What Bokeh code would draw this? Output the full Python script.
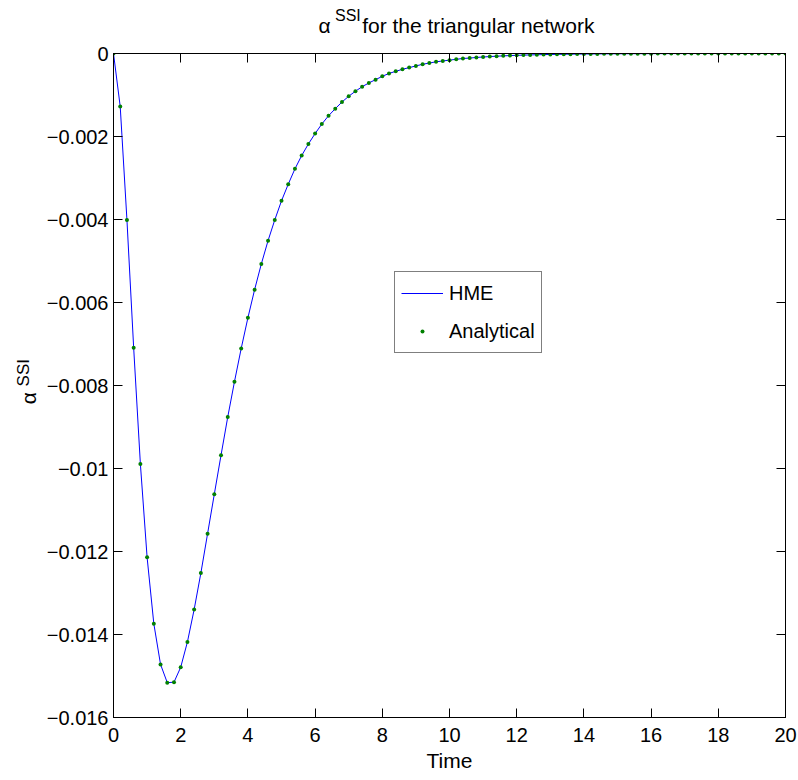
from bokeh.plotting import figure
from bokeh.models import (LinearAxis, FixedTicker, Legend, LegendItem, Range1d,
                          CustomJSTickFormatter)
from bokeh.embed import file_html
from bokeh.resources import INLINE

# ---------------- data ----------------
time = [0.0, 0.2, 0.4, 0.6, 0.8, 1.0, 1.2, 1.4, 1.6, 1.8,
        2.0, 2.2, 2.4, 2.6, 2.8, 3.0, 3.2, 3.4, 3.6, 3.8,
        4.0, 4.2, 4.4, 4.6, 4.8, 5.0, 5.2, 5.4, 5.6, 5.8,
        6.0, 6.2, 6.4, 6.6, 6.8, 7.0, 7.2, 7.4, 7.6, 7.8,
        8.0, 8.2, 8.4, 8.6, 8.8, 9.0, 9.2, 9.4, 9.6, 9.8,
        10.0, 10.2, 10.4, 10.6, 10.8, 11.0, 11.2, 11.4, 11.6, 11.8,
        12.0, 12.2, 12.4, 12.6, 12.8, 13.0, 13.2, 13.4, 13.6, 13.8,
        14.0, 14.2, 14.4, 14.6, 14.8, 15.0, 15.2, 15.4, 15.6, 15.8,
        16.0, 16.2, 16.4, 16.6, 16.8, 17.0, 17.2, 17.4, 17.6, 17.8,
        18.0, 18.2, 18.4, 18.6, 18.8, 19.0, 19.2, 19.4, 19.6, 19.8,
        20.0]

alpha_ssi = [0.0, -0.00128, -0.00401, -0.00709, -0.00989, -0.01214, -0.01374, -0.01472, -0.01516, -0.01515,
             -0.01479, -0.01418, -0.01340, -0.01252, -0.01157, -0.01062, -0.00968, -0.00876, -0.00791, -0.00711,
             -0.00637, -0.00569, -0.00507, -0.00451, -0.00401, -0.00355, -0.00315, -0.00278, -0.00246, -0.00218,
             -0.00193, -0.00170, -0.00150, -0.00133, -0.00117, -0.00103, -0.00091, -0.00080, -0.00071, -0.00063,
             -0.00055, -0.00048, -0.00043, -0.00038, -0.00034, -0.00030, -0.00026, -0.00023, -0.00020, -0.00018,
             -0.00016, -0.00014, -0.00012, -0.00011, -0.000095, -0.000084, -0.000074, -0.000065, -0.000057, -0.000050,
             -0.000044, -0.000039, -0.000034, -0.000030, -0.000027, -0.000023, -0.000021, -0.000018, -0.000016, -0.000014,
             -0.000012, -0.000011, -0.0000095, -0.0000084, -0.0000074, -0.0000065, -0.0000057, -0.0000050, -0.0000044, -0.0000039,
             -0.0000034, -0.0000030, -0.0000027, -0.0000023, -0.0000021, -0.0000018, -0.0000016, -0.0000014, -0.0000012, -0.0000011,
             -0.0000010, -0.0000008, -0.0000007, -0.0000006, -0.0000006, -0.0000005, -0.0000004, -0.0000004, -0.0000003, -0.0000003,
             -0.0000003]

x_ticks = [0, 2, 4, 6, 8, 10, 12, 14, 16, 18, 20]
y_ticks = [-0.016, -0.014, -0.012, -0.01, -0.008, -0.006, -0.004, -0.002, 0]
y_tick_labels = ["\u22120.016", "\u22120.014", "\u22120.012", "\u22120.01", "\u22120.008",
                 "\u22120.006", "\u22120.004", "\u22120.002", "0"]

# the superscript parts are drawn as separate texts; em/en spaces only shift them sideways
title_main = "\u2002\u2006\u03b1\u2003\u2002for the triangular network"
title_sup = "SSI" + "\u2003" * 12 + "\u2002\u2009"
ylabel_main = "\u03b1\u2003\u2009"
ylabel_sup = "\u2003\u2002SSI"
xlabel = "Time"
series_names = ["HME", "Analytical"]

FONT = "Liberation Sans"
FS = "20px"

p = figure(width=798, height=780, frame_width=672, frame_height=664,
           output_backend="svg", toolbar_location=None,
           x_range=Range1d(0, 20), y_range=Range1d(-0.016, 0),
           min_border_left=113, min_border_right=13, min_border_top=53, min_border_bottom=63)
p.title.visible = False
p.background_fill_color = "white"
p.border_fill_color = "white"
p.outline_line_color = "black"
p.outline_line_width = 1
p.xgrid.visible = False
p.ygrid.visible = False

def style_axis(ax):
    ax.axis_line_color = "black"
    ax.axis_line_width = 1
    ax.major_tick_in = 9
    ax.major_tick_out = 0
    ax.minor_tick_in = 0
    ax.minor_tick_out = 0
    ax.major_tick_line_color = "black"
    ax.major_label_text_font = FONT
    ax.major_label_text_font_size = FS
    ax.major_label_text_color = "black"
    ax.axis_label_text_font = FONT
    ax.axis_label_text_font_size = FS
    ax.axis_label_text_font_style = "normal"
    ax.axis_label_text_color = "black"

def sup_axis(label, size, standoff):
    ax = LinearAxis(ticker=FixedTicker(ticks=[]))
    style_axis(ax)
    ax.axis_line_color = None
    ax.major_tick_line_color = None
    ax.major_label_standoff = 0
    ax.axis_label = label
    ax.axis_label_text_font_size = size
    ax.axis_label_standoff = standoff
    return ax

xa = p.xaxis[0]
ya = p.yaxis[0]
xa.ticker = FixedTicker(ticks=x_ticks)
ya.ticker = FixedTicker(ticks=y_ticks)
ya.major_label_overrides = {t: l for t, l in zip(y_ticks, y_tick_labels)}
style_axis(xa)
style_axis(ya)
xa.major_label_standoff = 10
ya.major_label_standoff = 5
xa.axis_label = xlabel
xa.axis_label_text_font_size = "21px"
xa.axis_label_standoff = 4
ya.axis_label = ylabel_main
ya.axis_label_text_font_size = "21px"
ya.axis_label_standoff = 4

# y label superscript
p.add_layout(sup_axis(ylabel_sup, "17px", -19), "left")

# top and right boxes with inward ticks only
blank = CustomJSTickFormatter(code="return ''")
top = LinearAxis(ticker=FixedTicker(ticks=x_ticks), formatter=blank)
right = LinearAxis(ticker=FixedTicker(ticks=y_ticks), formatter=blank)
for ax in (top, right):
    style_axis(ax)
    ax.major_label_standoff = 0
top.axis_label = title_main
top.axis_label_text_font_size = "21px"
top.axis_label_standoff = 17
p.add_layout(top, "above")
p.add_layout(right, "right")

# title superscript
p.add_layout(sup_axis(title_sup, "16px", -13), "above")

line_r = p.line(time, alpha_ssi, line_color="#0000FF", line_width=1)
dot_r = p.scatter(time, alpha_ssi, size=4, fill_color="#008000", line_color=None)

legend = Legend(items=[LegendItem(label=series_names[0], renderers=[line_r]),
                       LegendItem(label=series_names[1], renderers=[dot_r])],
                location=(281, 364))
legend.border_line_color = "black"
legend.border_line_width = 1
legend.background_fill_color = "white"
legend.background_fill_alpha = 1
legend.label_text_font = FONT
legend.label_text_font_size = FS
legend.label_text_color = "black"
legend.glyph_width = 42
legend.glyph_height = 10
legend.label_height = 30
legend.label_standoff = 6
legend.padding = 6
legend.spacing = 8
legend.margin = 0
p.add_layout(legend, "center")

open("out.html", "w").write(file_html(p, INLINE))
